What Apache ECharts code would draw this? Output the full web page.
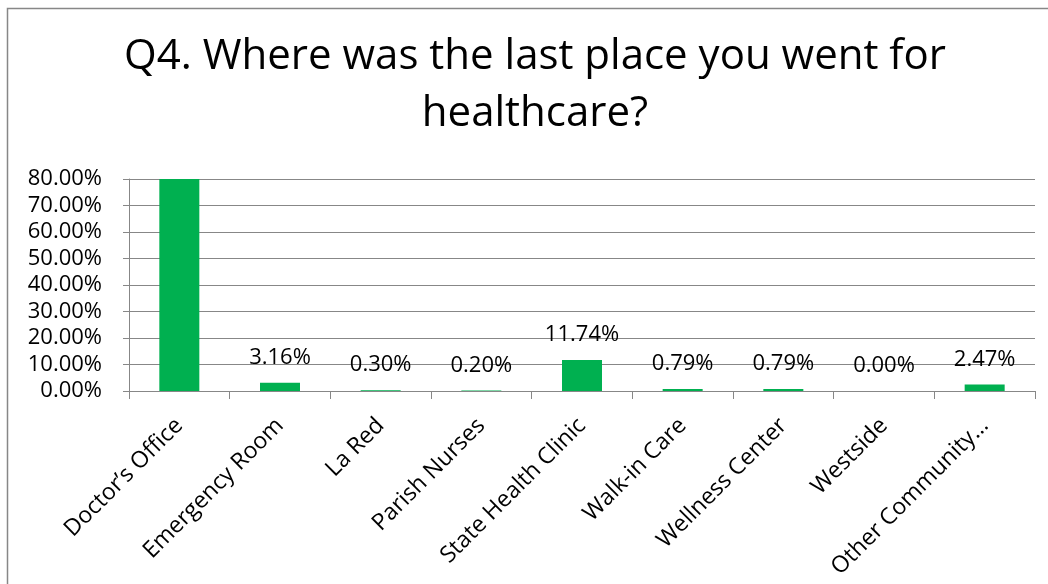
<!DOCTYPE html>
<html>
<head>
<meta charset="utf-8">
<script src="https://cdn.jsdelivr.net/npm/echarts@6/dist/echarts.min.js"></script>
<style>
html,body{margin:0;padding:0;background:#fff;}
#chart{width:1048px;height:584px;}
</style>
</head>
<body>
<div id="chart"></div>
<script>
const titleText = "Q4. Where was the last place you went for\nhealthcare?";
const categories = ["Doctor\u2019s Office", "Emergency Room", "La Red", "Parish Nurses", "State Health Clinic", "Walk-in Care", "Wellness Center", "Westside", "Other Community\u2026"];
const values = [80.55, 3.16, 0.30, 0.20, 11.74, 0.79, 0.79, 0.00, 2.47];
const yTicks = [0, 10, 20, 30, 40, 50, 60, 70, 80];

const font = "'Open Sans', 'Noto Sans', sans-serif";
const chart = echarts.init(document.getElementById('chart'));
chart.setOption({
  animation: false,
  backgroundColor: '#fff',
  graphic: [{
    type: 'rect',
    shape: { x: 7.5, y: 8.5, width: 1200, height: 800 },
    style: { fill: 'none', stroke: '#878787', lineWidth: 1.5 },
    silent: true
  }],
  title: {
    text: titleText,
    left: 535,
    top: 29,
    padding: 0,
    textAlign: 'center',
    textStyle: { fontFamily: font, fontSize: 42, fontWeight: 'normal', color: '#000', lineHeight: 57 }
  },
  grid: { left: 129, right: 13, top: 179, bottom: 193, containLabel: false },
  xAxis: {
    type: 'category',
    data: categories,
    axisLine: { show: true, lineStyle: { color: '#878787', width: 1 } },
    axisTick: { show: true, length: 8, alignWithLabel: false, lineStyle: { color: '#878787' } },
    axisLabel: { rotate: 45, interval: 0, margin: 31, fontFamily: font, fontSize: 23, color: '#000' }
  },
  yAxis: {
    type: 'value',
    min: yTicks[0],
    max: yTicks[yTicks.length - 1],
    interval: 10,
    axisLine: { show: true, lineStyle: { color: '#878787', width: 1 } },
    axisTick: { show: true, length: 6, lineStyle: { color: '#878787' } },
    splitLine: { show: true, lineStyle: { color: '#878787', width: 1 } },
    axisLabel: { margin: 27, fontFamily: font, fontSize: 22, color: '#000', formatter: v => v.toFixed(2) + '%' }
  },
  series: [{
    type: 'bar',
    data: values.map((v, i) => i === 0 ? { value: v, label: { show: false } } : v),
    barWidth: 40,
    clip: true,
    itemStyle: { color: '#00B050' },
    label: {
      show: true,
      position: 'top',
      distance: 14,
      fontFamily: font,
      fontSize: 22,
      color: '#000',
      formatter: p => p.value.toFixed(2) + '%'
    }
  }]
});
</script>
</body>
</html>
